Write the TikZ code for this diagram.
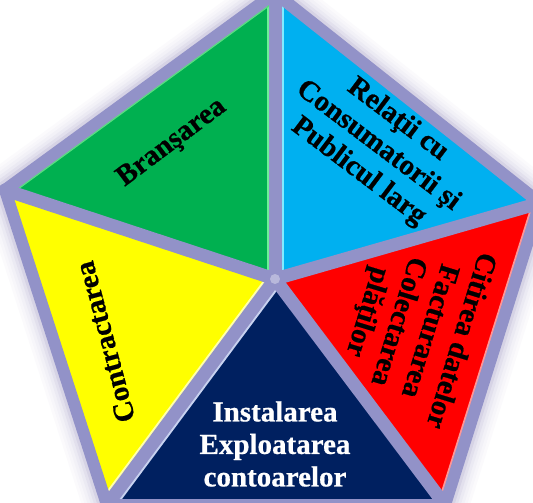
\documentclass[tikz,border=0pt]{standalone}
\usepackage{fontspec}
\setmainfont{Liberation Serif}
\newfontfamily\lblfont[BoldFont={Liberation Serif Bold}, BoldFeatures={FakeBold=0.6}]{Liberation Serif}
\definecolor{lav}{RGB}{146,146,200}
\definecolor{glowc}{RGB}{120,110,170}
\definecolor{cgreen}{RGB}{0,176,80}
\definecolor{cblue}{RGB}{0,176,240}
\definecolor{cred}{RGB}{255,0,0}
\definecolor{cnavy}{RGB}{0,32,96}
\definecolor{cyellow}{RGB}{255,255,0}
\begin{document}
\begin{tikzpicture}[x=1pt,y=-1pt,
  lbl/.style={font=\lblfont\bfseries\fontsize{29}{32.5}\selectfont, align=center, inner sep=0pt},
  spoke/.style={draw=lav, line width=13pt, line cap=round},
  hl/.style={line width=17pt},
  glow/.style={draw=glowc, line join=round},
  ]
\useasboundingbox (0,0) rectangle (533,503);
\clip (0,0) rectangle (533,503);
\coordinate (T) at (275,-7);
\coordinate (L) at (5,190);
\coordinate (R) at (540,203);
\coordinate (BR) at (445,505);
\coordinate (BL) at (107,505);
\coordinate (C) at (275,279);
% glow
\foreach \w/\o in {48/0.03,42/0.03,36/0.04,30/0.05,24/0.08,18/0.12}
  \draw[glow, line width=\w pt, opacity=\o] (T)--(R)--(BR)--(BL)--(L)--cycle;
% base
\fill[lav] (T)--(R)--(BR)--(BL)--(L)--cycle;
% triangles
\fill[cgreen] (T)--(L)--(C)--cycle;
\fill[cblue] (T)--(R)--(C)--cycle;
\fill[cred] (R)--(BR)--(C)--cycle;
\fill[cnavy] (BR)--(BL)--(C)--cycle;
\fill[cyellow] (BL)--(L)--(C)--cycle;
% highlights
\begin{scope}
  \clip (T)--(L)--(C)--cycle;
  \draw[hl, draw={rgb,255:red,110;green,240;blue,150}] (C)--(T);
  \draw[line width=15pt, draw={rgb,255:red,90;green,220;blue,130}] (T)--(L);
\end{scope}
\begin{scope}
  \clip (T)--(R)--(C)--cycle;
  \draw[hl, draw={rgb,255:red,130;green,235;blue,255}] (C)--(T);
\end{scope}
\begin{scope}
  \clip (BL)--(L)--(C)--cycle;
  \draw[hl, draw={rgb,255:red,255;green,255;blue,170}] (C)--(BL);
\end{scope}
\begin{scope}
  \clip (BR)--(BL)--(C)--cycle;
  \draw[hl, draw={rgb,255:red,200;green,210;blue,240}] (C)--(BL);
\end{scope}
\begin{scope}
  \clip (R)--(BR)--(C)--cycle;
  \draw[line width=15.5pt, draw={rgb,255:red,255;green,150;blue,150}] (R)--(BR);
\end{scope}
% spokes and border
\draw[lav, line width=12pt, line join=round] (T)--(R)--(BR)--(BL)--(L)--cycle;
\foreach \p in {T,L,R,BL,BR} \draw[spoke] (C)--(\p);
\fill[white, opacity=0.35] (C) circle (5);
% labels
\node[lbl, rotate=37] (t1) at (172,143) {Branşarea};
\node[lbl, rotate=-37] (t2) at (378,146) {Relaţii cu\\Consumatorii şi\\Publicul larg};
\node[lbl, rotate=-107] (t3) at (413,326) {Citirea datelor\\Facturarea\\Colectarea\\plăţilor};
\node[lbl, text=white] (t4) at (275,444) {Instalarea\\Exploatarea\\contoarelor};
\node[lbl, rotate=105] (t5) at (105,342) {Contractarea};
\end{tikzpicture}
\end{document}
